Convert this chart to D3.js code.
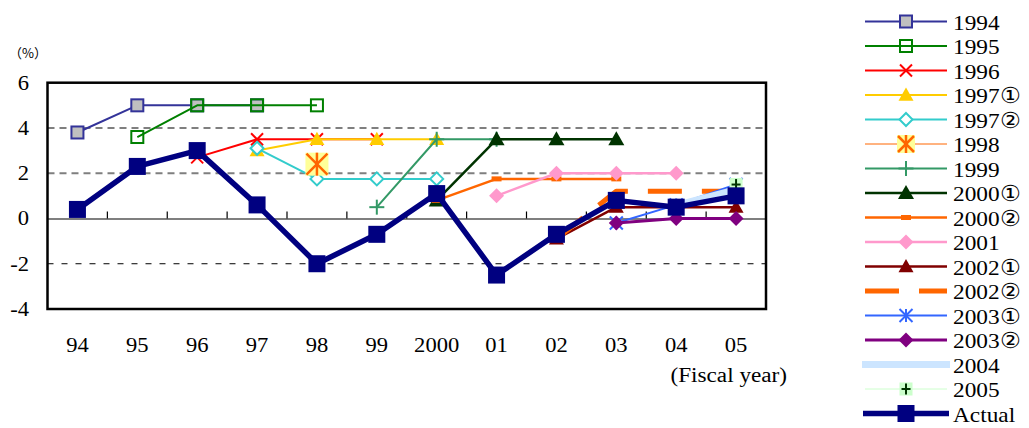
<!DOCTYPE html>
<html>
<head>
<meta charset="utf-8">
<script src="https://cdn.jsdelivr.net/npm/d3@7"></script>
<style>
  html, body { margin: 0; padding: 0; background: #fff; }
</style>
</head>
<body>
<svg id="chart" width="1029" height="428"></svg>
<script>
// Fiscal years on the x axis
const fiscalYears = ["94", "95", "96", "97", "98", "99", "2000", "01", "02", "03", "04", "05"];
const yTicks = [-4, -2, 0, 2, 4, 6];

// Growth forecasts (%) by the year they were made, plus the actual outcome
const f1994  = [3.8, 5.0, 5.0, 5.0, null, null, null, null, null, null, null, null];
const f1995  = [null, 3.6, 5.0, 5.0, 5.0, null, null, null, null, null, null, null];
const f1996  = [null, null, 2.7, 3.5, 3.5, 3.5, null, null, null, null, null, null];
const f1997a = [null, null, null, 3.0, 3.5, 3.5, 3.5, null, null, null, null, null];
const f1997b = [null, null, null, 3.1, 1.75, 1.75, 1.75, null, null, null, null, null];
const f1998  = [null, null, null, null, 2.4, null, null, null, null, null, null, null];
const f1999  = [null, null, null, null, null, 0.5, 3.5, 3.5, null, null, null, null];
const f2000a = [null, null, null, null, null, null, 0.8, 3.5, 3.5, 3.5, null, null];
const f2000b = [null, null, null, null, null, null, 0.8, 1.75, 1.75, 1.75, null, null];
const f2001  = [null, null, null, null, null, null, null, 1.0, 2.0, 2.0, 2.0, null];
const f2002a = [null, null, null, null, null, null, null, null, -0.9, 0.5, 0.5, 0.5];
const f2002b = [null, null, null, null, null, null, null, null, -0.9, 1.2, 1.2, 1.2];
const f2003a = [null, null, null, null, null, null, null, null, null, -0.2, 0.6, 1.5];
const f2003b = [null, null, null, null, null, null, null, null, null, -0.2, 0.0, 0.0];
const f2004  = [null, null, null, null, null, null, null, null, null, null, 0.6, 1.3];
const f2005  = [null, null, null, null, null, null, null, null, null, null, null, 1.5];
const actual = [0.4, 2.3, 3.0, 0.6, -2.0, -0.7, 1.1, -2.5, -0.7, 0.8, 0.5, 1.0];

const seriesNames = ["1994", "1995", "1996", "1997①", "1997②", "1998", "1999", "2000①",
  "2000②", "2001", "2002①", "2002②", "2003①", "2003②", "2004", "2005", "Actual"];
const seriesValues = [f1994, f1995, f1996, f1997a, f1997b, f1998, f1999, f2000a,
  f2000b, f2001, f2002a, f2002b, f2003a, f2003b, f2004, f2005, actual];

// Drawing style for each series
const styles = {
  "1994":  { color: "#333399", width: 2,   marker: "square",   size: 12, fill: "#C0C0C0", mstroke: "#333399", mwidth: 2 },
  "1995":  { color: "#008000", width: 2,   marker: "square",   size: 12, fill: "none", mstroke: "#008000", mwidth: 2 },
  "1996":  { color: "#FF0000", width: 2,   marker: "x",        size: 12, mstroke: "#FF0000", mwidth: 2 },
  "1997①": { color: "#FFCC00", width: 2,   marker: "triangle", size: 15, fill: "#FFCC00" },
  "1997②": { color: "#33CCCC", width: 2,   marker: "diamond",  size: 13, fill: "#FFFFFF", mstroke: "#33CCCC", mwidth: 2 },
  "1998":  { color: "#FF6600", width: 1,   marker: "starBox",  size: 23, legendSize: 18, fill: "#FFFF99", mstroke: "#FF6600", mwidth: 2.5 },
  "1999":  { color: "#339966", width: 2,   marker: "plus",     size: 15, mstroke: "#339966", mwidth: 2 },
  "2000①": { color: "#003300", width: 2.5, marker: "triangle", size: 16, fill: "#003300" },
  "2000②": { color: "#FF6600", width: 2.5, marker: "dash",     size: 10, fill: "#FF6600" },
  "2001":  { color: "#FF99CC", width: 2.5, marker: "diamond",  size: 15, fill: "#FF99CC" },
  "2002①": { color: "#800000", width: 2.5, marker: "triangle", size: 15, fill: "#800000" },
  "2002②": { color: "#FF6600", width: 5,   marker: null, dash: "34,20" },
  "2003①": { color: "#3366FF", width: 2,   marker: "star",     size: 13, mstroke: "#3366FF", mwidth: 2 },
  "2003②": { color: "#800080", width: 3,   marker: "diamond",  size: 15, fill: "#800080" },
  "2004":  { color: "#CCE5FF", width: 6,   marker: null },
  "2005":  { color: "#CCFFCC", width: 1,   marker: "plusBox",  size: 13, fill: "#CCFFCC", mstroke: "#003300", mwidth: 2 },
  "Actual":{ color: "#000080", width: 5.5, marker: "square",   size: 17, fill: "#000080" }
};

const SERIF = "Liberation Serif, Times New Roman, serif";

const svg = d3.select("#chart");
const plot = { left: 47.5, right: 766, top: 82.7, bottom: 309 };

const x = d3.scaleBand().domain(fiscalYears).range([plot.left, plot.right]);
const cx = d => x(d) + x.bandwidth() / 2;
const y = d3.scaleLinear().domain([-4, 6]).range([plot.bottom, plot.top]);

// Slightly widened serif text
function label(g, txt, px, py, size, anchor, sx) {
  return g.append("text")
    .attr("transform", `translate(${px},${py}) scale(${sx},1)`)
    .attr("font-family", SERIF)
    .attr("font-size", size)
    .attr("fill", "#000")
    .attr("text-anchor", anchor)
    .text(txt);
}

// Marker shapes
function drawMarker(g, st, px, py, sizeOverride) {
  if (!st.marker) return;
  const s = sizeOverride || st.size;
  const h = s / 2;
  const m = g.append("g").attr("transform", `translate(${px},${py})`);
  const strokeLines = (segs) => segs.forEach(([a, b, c, d]) =>
    m.append("line").attr("x1", a).attr("y1", b).attr("x2", c).attr("y2", d)
      .attr("stroke", st.mstroke).attr("stroke-width", st.mwidth));
  switch (st.marker) {
    case "square":
      m.append("rect").attr("x", -h).attr("y", -h).attr("width", s).attr("height", s)
        .attr("fill", st.fill).attr("stroke", st.mstroke || "none").attr("stroke-width", st.mwidth || 0);
      break;
    case "triangle":
      m.append("path").attr("d", `M0,${-h}L${h},${h * 0.75}L${-h},${h * 0.75}Z`).attr("fill", st.fill);
      break;
    case "diamond":
      m.append("path").attr("d", `M0,${-h}L${h},0L0,${h}L${-h},0Z`)
        .attr("fill", st.fill).attr("stroke", st.mstroke || "none").attr("stroke-width", st.mwidth || 0);
      break;
    case "x":
      strokeLines([[-h, -h, h, h], [-h, h, h, -h]]);
      break;
    case "plus":
      strokeLines([[-h, 0, h, 0], [0, -h, 0, h]]);
      break;
    case "star":
      strokeLines([[-h, -h, h, h], [-h, h, h, -h], [0, -h, 0, h]]);
      break;
    case "starBox":
      m.append("rect").attr("x", -h).attr("y", -h).attr("width", s).attr("height", s).attr("fill", st.fill);
      strokeLines([[-h + 1, -h + 1, h - 1, h - 1], [-h + 1, h - 1, h - 1, -h + 1], [0, -h, 0, h]]);
      break;
    case "plusBox":
      m.append("rect").attr("x", -h).attr("y", -h).attr("width", s).attr("height", s).attr("fill", st.fill);
      strokeLines([[-h + 2, 0, h - 2, 0], [0, -h + 1, 0, h - 1]]);
      break;
    case "dash":
      m.append("rect").attr("x", -h).attr("y", -2.5).attr("width", s).attr("height", 5).attr("fill", st.fill);
      break;
  }
}

// Gridlines
const grid = svg.append("g");
[4, 2].forEach(v => grid.append("line")
  .attr("x1", plot.left).attr("x2", plot.right).attr("y1", y(v)).attr("y2", y(v))
  .attr("stroke", "#7f7f7f").attr("stroke-width", 2).attr("stroke-dasharray", "7,5"));
grid.append("line")
  .attr("x1", plot.left).attr("x2", plot.right).attr("y1", y(-2)).attr("y2", y(-2))
  .attr("stroke", "#000").attr("stroke-width", 1).attr("stroke-dasharray", "6,8");

// Category axis sits on zero with inward tick marks between years
const xAxis = d3.axisTop(x).tickSize(0).tickFormat("");
const xAxisG = svg.append("g").attr("transform", `translate(0,${y(0)})`).call(xAxis);
xAxisG.select(".domain").attr("stroke", "#000").attr("stroke-width", 1.2);
xAxisG.selectAll(".sep").data(fiscalYears.slice(1)).enter().append("line")
  .attr("x1", d => x(d)).attr("x2", d => x(d)).attr("y1", 0).attr("y2", -7)
  .attr("stroke", "#000").attr("stroke-width", 1.2);

// Year labels below the plot
const labels = svg.append("g");
fiscalYears.forEach(d => label(labels, d, cx(d), 352, 20, "middle", 1.13));
label(labels, "(Fiscal year)", 787, 382, 20, "end", 1.16);

// Value axis labels
yTicks.forEach(v => label(labels, String(v), 29, y(v) + 7, 20, "end", 1.13));
labels.append("text").attr("x", 9).attr("y", 58).attr("font-size", 13)
  .attr("font-family", "Noto Sans CJK JP").text("（%）");

// Series
const line = d3.line()
  .defined(d => d.v != null)
  .x(d => cx(d.k))
  .y(d => y(d.v));

const seriesG = svg.append("g");
seriesNames.forEach((name, i) => {
  const st = styles[name];
  const pts = fiscalYears.map((k, j) => ({ k, v: seriesValues[i][j] }));
  const g = seriesG.append("g");
  g.append("path").datum(pts).attr("d", line)
    .attr("fill", "none").attr("stroke", st.color).attr("stroke-width", st.width)
    .attr("stroke-linejoin", "round")
    .attr("stroke-dasharray", st.dash || null);
  pts.filter(p => p.v != null).forEach(p => drawMarker(g, st, cx(p.k), y(p.v)));
});

// Plot border
svg.append("rect").attr("x", plot.left).attr("y", plot.top)
  .attr("width", plot.right - plot.left).attr("height", plot.bottom - plot.top)
  .attr("fill", "none").attr("stroke", "#000").attr("stroke-width", 2.5);

// Legend
const legend = svg.append("g");
const lx0 = 865, lx1 = 947, lmx = 906, ltx = 953;
seriesNames.forEach((name, i) => {
  const st = styles[name];
  const ly = 21.5 + i * 24.5;
  const g = legend.append("g");
  if (name === "2004") {
    g.append("rect").attr("x", 862).attr("y", ly - 3.5).attr("width", 88).attr("height", 7).attr("fill", st.color);
  } else {
    g.append("line").attr("x1", name === "Actual" ? 863 : lx0).attr("x2", name === "Actual" ? 949 : lx1)
      .attr("y1", ly).attr("y2", ly)
      .attr("stroke", st.color).attr("stroke-width", st.width)
      .attr("stroke-dasharray", st.dash || null);
  }
  drawMarker(g, st, lmx, ly, st.legendSize);
  label(g, name, ltx, ly + 8, 22, "start", 1.06);
});
</script>
</body>
</html>
